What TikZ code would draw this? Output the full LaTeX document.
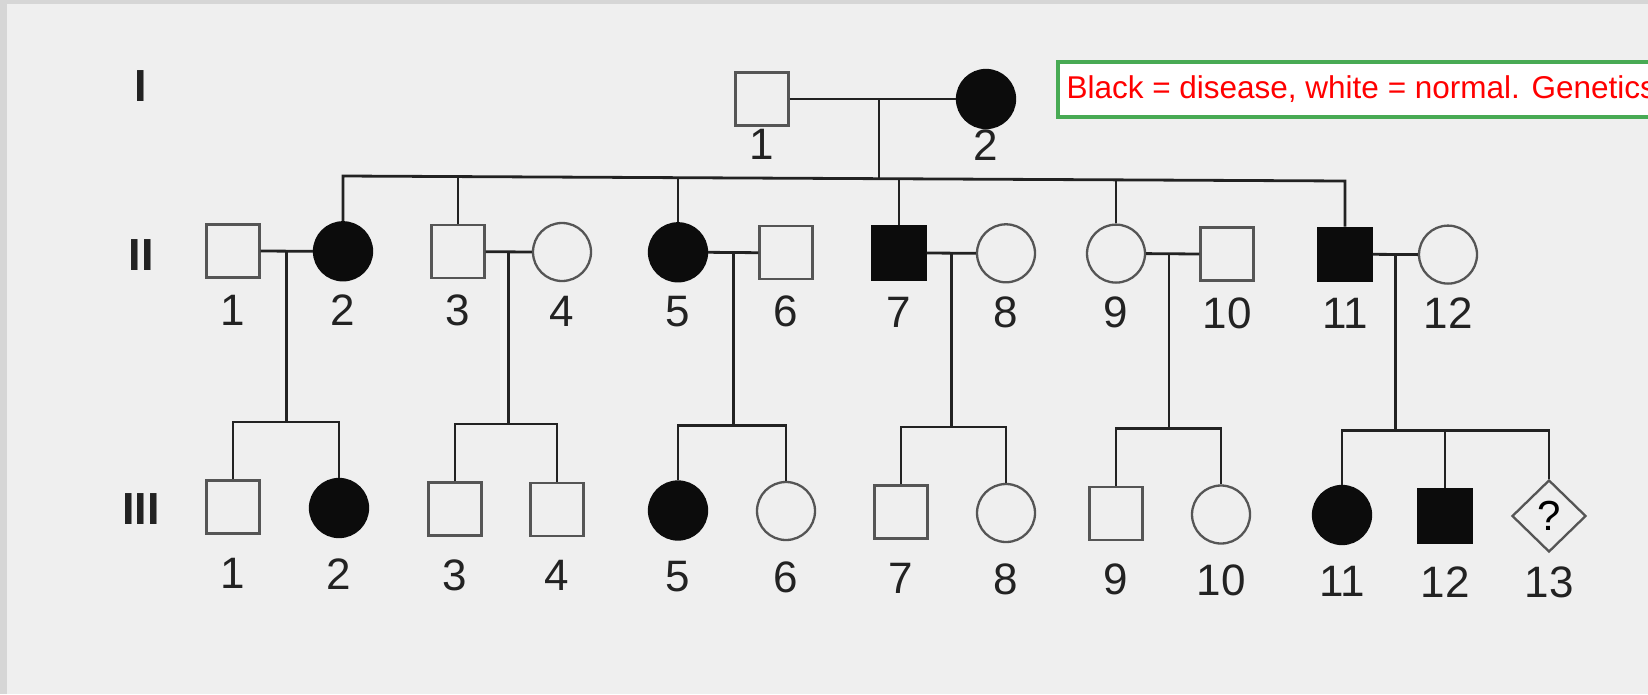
\documentclass[tikz,border=0pt]{standalone}
\usepackage{fontspec}
\setmainfont{Liberation Sans}
\usetikzlibrary{shapes.geometric,calc}
\definecolor{bg}{RGB}{239,239,239}
\definecolor{edgegray}{RGB}{214,214,214}
\definecolor{ink}{RGB}{34,34,34}
\definecolor{outl}{RGB}{85,85,85}
\definecolor{boxgreen}{RGB}{72,170,84}
\definecolor{solid}{RGB}{12,12,12}
\tikzset{
  male/.style={rectangle, draw=outl, line width=2.3pt, minimum size=53pt, inner sep=0pt},
  female/.style={circle, draw=outl, line width=2.3pt, minimum size=58pt, inner sep=0pt},
  unknown/.style={diamond, draw=outl, line width=2.3pt, minimum width=74pt, minimum height=72pt, inner sep=0pt, font=\fontsize{42}{44}\selectfont},
  aff/.style={fill=solid, draw=solid},
  lab/.style={inner sep=0pt, text=ink, font=\fontsize{44}{48}\selectfont},
  gen/.style={inner sep=0pt, text=ink, font=\fontsize{45}{48}\selectfont\bfseries},
  link/.style={draw=ink, line width=2.8pt},
  note/.style={anchor=west, draw=boxgreen, line width=4pt, fill=white, text=red,
    minimum height=55pt, inner xsep=9pt, inner ysep=0pt, font=\fontsize{31.5}{36}\selectfont}
}
\begin{document}
\begin{tikzpicture}[x=1pt,y=-1pt]
\useasboundingbox (0,0) rectangle (1648,694);
\clip (0,0) rectangle (1648,694);
\fill[bg] (0,0) rectangle (1648,694);
\fill[edgegray] (0,0) rectangle (7,694);
\fill[edgegray] (0,0) rectangle (1648,4);

% generation labels
\node[gen] (gI) at (141,86) {I};
\node[gen] (gII) at (141,255) {II};
\node[gen] (gIII) at (141,509) {III};

% generation I
\node[male] (i1) at (762,99) {};
\node[female,aff] (i2) at (986,99) {};
\node[lab] (li1) at (762,144) {1};
\node[lab] (li2) at (986,145) {2};

% generation II
\node[male] (ii1) at (233,251) {};
\node[female,aff] (ii2) at (343,251.3) {};
\node[male] (ii3) at (458,251.7) {};
\node[female] (ii4) at (562,252) {};
\node[female,aff] (ii5) at (678,252.3) {};
\node[male] (ii6) at (786,252.7) {};
\node[male,aff] (ii7) at (899,253) {};
\node[female] (ii8) at (1006,253.3) {};
\node[female] (ii9) at (1116,253.6) {};
\node[male] (ii10) at (1227,254) {};
\node[male,aff] (ii11) at (1345,254.3) {};
\node[female] (ii12) at (1448,254.6) {};
\node[lab] (lii1) at (233,310) {1};
\node[lab] (lii2) at (343,310.3) {2};
\node[lab] (lii3) at (458,310.7) {3};
\node[lab] (lii4) at (562,311) {4};
\node[lab] (lii5) at (678,311.3) {5};
\node[lab] (lii6) at (786,311.7) {6};
\node[lab] (lii7) at (899,312) {7};
\node[lab] (lii8) at (1006,312.3) {8};
\node[lab] (lii9) at (1116,312.6) {9};
\node[lab] (lii10) at (1227,313) {10};
\node[lab] (lii11) at (1345,313.3) {11};
\node[lab] (lii12) at (1448,313.6) {12};

% generation III
\node[male] (iii1) at (233,507) {};
\node[female,aff] (iii2) at (339,508) {};
\node[male] (iii3) at (455,509) {};
\node[male] (iii4) at (557,509.5) {};
\node[female,aff] (iii5) at (678,510.5) {};
\node[female] (iii6) at (786,511) {};
\node[male] (iii7) at (901,512) {};
\node[female] (iii8) at (1006,513) {};
\node[male] (iii9) at (1116,513.5) {};
\node[female] (iii10) at (1221,514.5) {};
\node[female,aff] (iii11) at (1342,515) {};
\node[male,aff] (iii12) at (1445,516) {};
\node[unknown] (iii13) at (1549,516) {?};
\node[lab] (liii1) at (233,573) {1};
\node[lab] (liii2) at (339,574) {2};
\node[lab] (liii3) at (455,575) {3};
\node[lab] (liii4) at (557,575.5) {4};
\node[lab] (liii5) at (678,576.5) {5};
\node[lab] (liii6) at (786,577) {6};
\node[lab] (liii7) at (901,578) {7};
\node[lab] (liii8) at (1006,579) {8};
\node[lab] (liii9) at (1116,579.5) {9};
\node[lab] (liii10) at (1221,580.5) {10};
\node[lab] (liii11) at (1342,581) {11};
\node[lab] (liii12) at (1445,582) {12};
\node[lab] (liii13) at (1549,582) {13};

% note
\node[note] (note) at (1055.5,89.5) {Black = disease, white = normal. Genetics};

% helper coordinates
\coordinate (m1) at (879,99);
\coordinate (s1) at (879,178.7);
\coordinate (sL) at (343,176);
\coordinate (sR) at (1345,181);
\coordinate (s3) at (458,176.6);
\coordinate (s5) at (678,177.7);
\coordinate (s7) at (899,178.8);
\coordinate (s9) at (1116,179.9);
\coordinate (ya) at (0,422);
\coordinate (yb) at (0,424);
\coordinate (yc) at (0,425.5);
\coordinate (yd) at (0,427);
\coordinate (ye) at (0,428.5);
\coordinate (yf) at (0,430.5);
\coordinate (ma) at ($(ii1.east)!0.5!(ii2.west)$);
\coordinate (mb) at ($(ii3.east)!0.5!(ii4.west)$);
\coordinate (mc) at ($(ii5.east)!0.5!(ii6.west)$);
\coordinate (md) at ($(ii7.east)!0.5!(ii8.west)$);
\coordinate (me) at (1169,253.8);
\coordinate (mf) at ($(ii11.east)!0.5!(ii12.west)$);

% generation I mating and sibship
\draw[link] (i1.east) -- (i2.west);
\draw[link] (m1) -- (s1);
\draw[link] (ii2.north) -- (sL) -- (sR) -- (ii11.north);
\draw[link] (ii3.north) -- (s3);
\draw[link] (ii5.north) -- (s5);
\draw[link] (ii7.north) -- (s7);
\draw[link] (ii9.north) -- (s9);

% generation II matings
\draw[link] (ii1.east) -- (ii2.west);
\draw[link] (ii3.east) -- (ii4.west);
\draw[link] (ii5.east) -- (ii6.west);
\draw[link] (ii7.east) -- (ii8.west);
\draw[link] (ii9.east) -- (ii10.west);
\draw[link] (ii11.east) -- (ii12.west);

% descents
\draw[link] (ma) -- (ma |- ya);
\draw[link] (mb) -- (mb |- yb);
\draw[link] (mc) -- (mc |- yc);
\draw[link] (md) -- (md |- yd);
\draw[link] (me) -- (me |- ye);
\draw[link] (mf) -- (mf |- yf);

% generation III sibships
\draw[link] (iii1.north) |- (ma |- ya) -| (iii2.north);
\draw[link] (iii3.north) |- (mb |- yb) -| (iii4.north);
\draw[link] (iii5.north) |- (mc |- yc) -| (iii6.north);
\draw[link] (iii7.north) |- (md |- yd) -| (iii8.north);
\draw[link] (iii9.north) |- (me |- ye) -| (iii10.north);
\draw[link] (iii11.north) |- (mf |- yf) -| (iii13.north);
\draw[link] (iii12.north) -- (iii12.north |- yf);
\end{tikzpicture}
\end{document}
